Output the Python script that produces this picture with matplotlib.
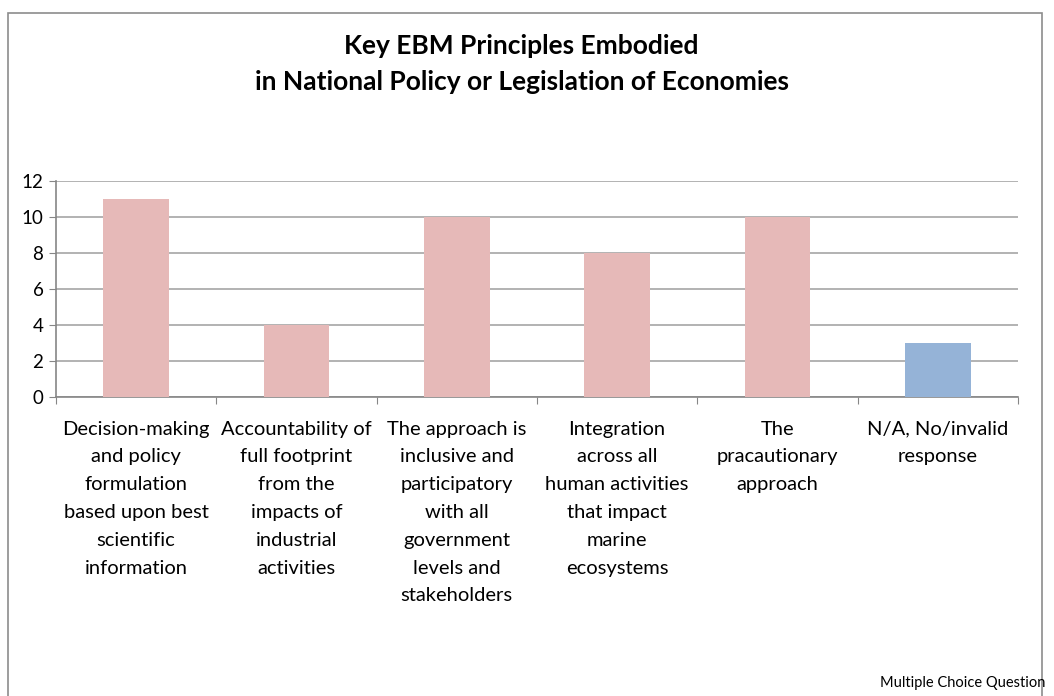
import matplotlib
matplotlib.use('Agg')
import matplotlib.pyplot as plt
from matplotlib.patches import Rectangle
import numpy as np

plt.rcParams['font.family'] = ['Lato', 'DejaVu Sans']

categories = [
    "Decision-making\nand policy\nformulation\nbased upon best\nscientific\ninformation",
    "Accountability of\nfull footprint\nfrom the\nimpacts of\nindustrial\nactivities",
    "The approach is\ninclusive and\nparticipatory\nwith all\ngovernment\nlevels and\nstakeholders",
    "Integration\nacross all\nhuman activities\nthat impact\nmarine\necosystems",
    "The\npracautionary\napproach",
    "N/A, No/invalid\nresponse",
]
values = [11, 4, 10, 8, 10, 3]
colors = ['#E6B9B8', '#E6B9B8', '#E6B9B8', '#E6B9B8', '#E6B9B8', '#95B3D7']
yticks = [0, 2, 4, 6, 8, 10, 12]

fig = plt.figure(figsize=(10.54, 6.96), dpi=100)
ax = fig.add_axes([0.0531, 0.4296, 0.9127, 0.3103])

x = np.arange(len(values))
ax.bar(x, values, width=0.41, color=colors, zorder=3)

ax.set_xlim(-0.5, len(values) - 0.5)
ax.set_ylim(0, 12)
ax.set_yticks(yticks)
ax.yaxis.grid(True, color='#A6A6A6', linewidth=1.2, zorder=0)
ax.tick_params(axis='y', length=5, color='#868686', labelsize=13.5, pad=4)

ax.set_xticks(np.arange(len(values) + 1) - 0.5)
ax.set_xticklabels([])
ax.tick_params(axis='x', which='major', length=5, color='#868686')
ax.set_xticks(x, minor=True)
ax.set_xticklabels(categories, minor=True, fontsize=14.5, linespacing=1.77, va='top')
ax.tick_params(axis='x', which='minor', length=0, pad=17)

for s in ['top', 'right']:
    ax.spines[s].set_visible(False)
for s in ['left', 'bottom']:
    ax.spines[s].set_color('#868686')
    ax.spines[s].set_linewidth(1.2)

fig.text(0.495, 0.908, "Key EBM Principles Embodied\nin National Policy or Legislation of Economies",
         ha='center', va='center', fontsize=19, fontweight='bold', linespacing=1.6)

fig.text(0.835, 0.018, "Multiple Choice Question", fontsize=10.5, ha='left', va='center')

fig.patches.append(Rectangle((8 / 1054, -0.05), (1042 - 8) / 1054, 1.05 - 13 / 696,
                             transform=fig.transFigure, fill=False,
                             edgecolor='#8C8C8C', linewidth=1.2))

fig.savefig('out.png', dpi=100)
